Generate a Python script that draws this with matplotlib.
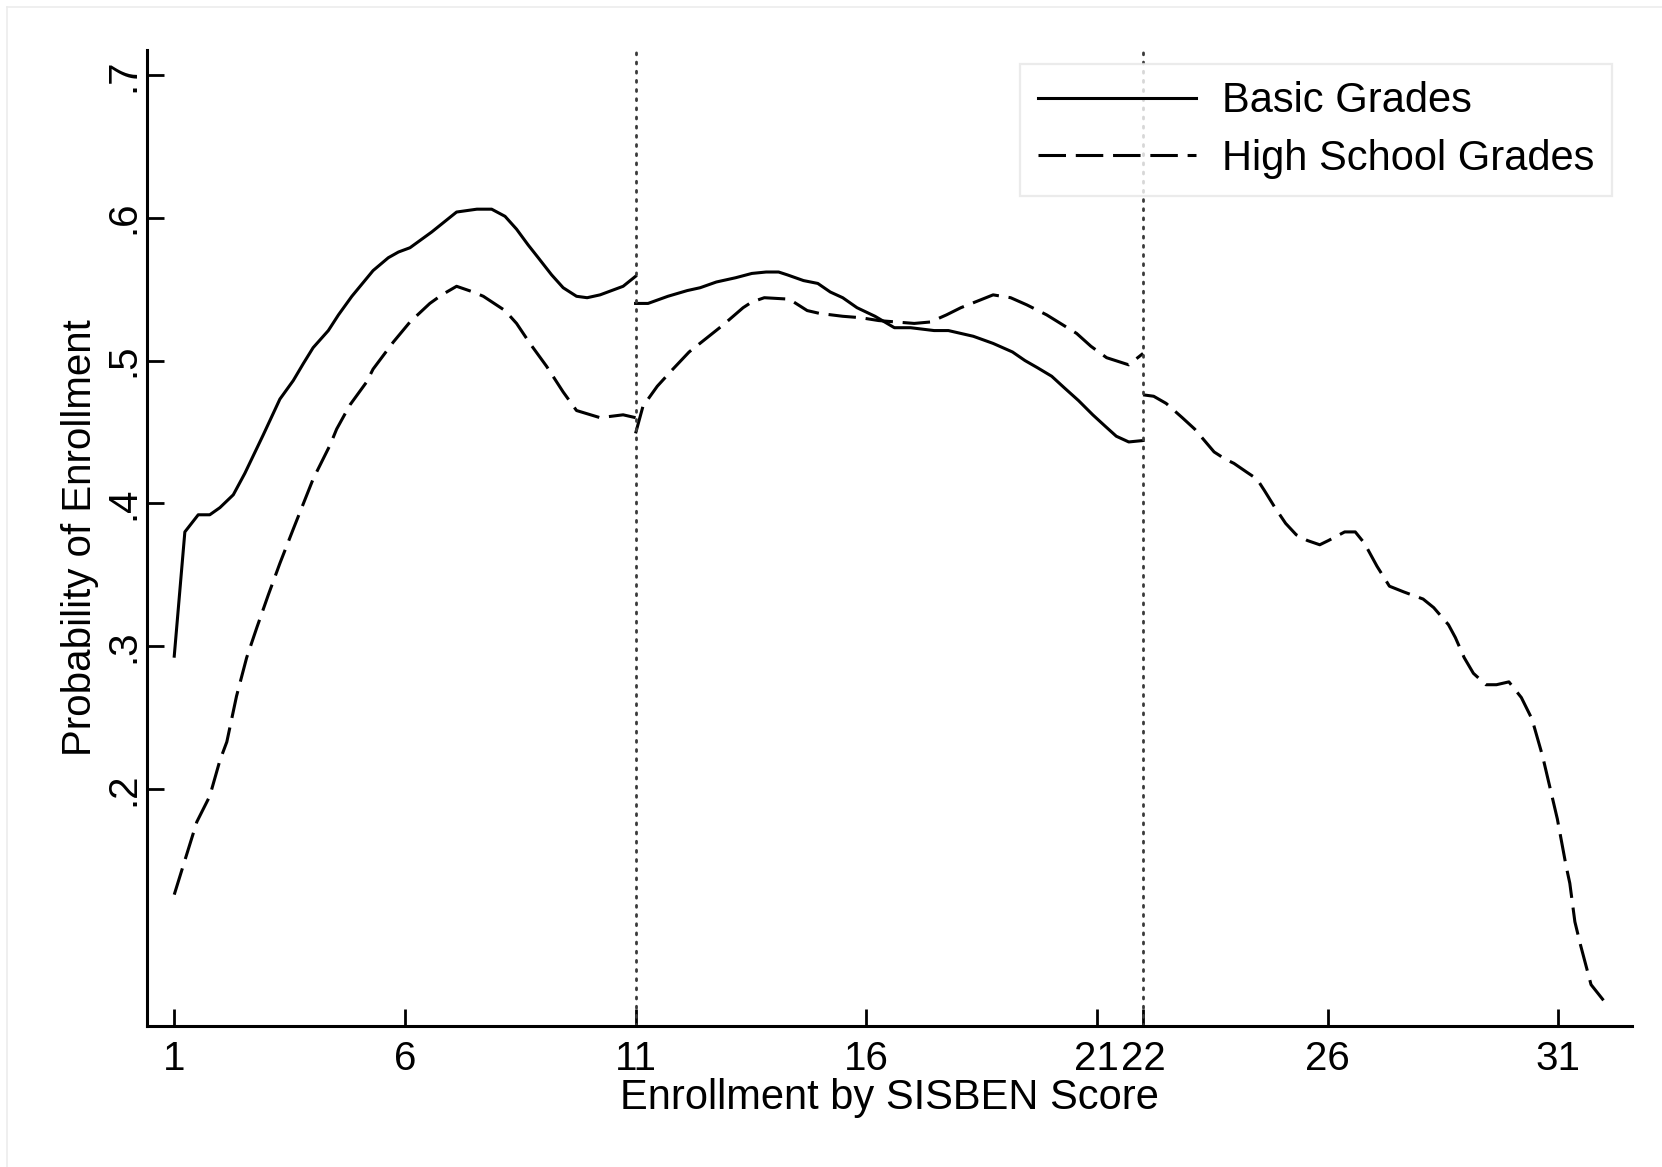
#!/usr/bin/env python3
"""Enrollment probability by SISBEN score, basic vs high school grades."""

import matplotlib

matplotlib.use("Agg")
import matplotlib.pyplot as plt
from matplotlib.lines import Line2D

# basic grades, piecewise between the cutoffs 11 and 22
basic_a_x = [1.0, 1.23, 1.52, 1.77, 1.99, 2.28, 2.53, 2.93, 3.29, 3.58, 3.80, 4.01,
             4.34, 4.56, 4.85, 5.31, 5.64, 5.86, 6.11, 6.58, 7.12, 7.56, 7.88, 8.17,
             8.42, 8.67, 8.89, 9.18, 9.43, 9.72, 9.95, 10.23, 10.73, 11.0]
basic_a_y = [0.293, 0.380, 0.392, 0.392, 0.397, 0.406, 0.421, 0.448, 0.473, 0.486, 0.498, 0.509,
             0.521, 0.532, 0.545, 0.563, 0.572, 0.576, 0.579, 0.590, 0.604, 0.606, 0.606, 0.601,
             0.592, 0.581, 0.572, 0.560, 0.551, 0.545, 0.544, 0.546, 0.552, 0.559]
basic_b_x = [11.0, 11.27, 11.70, 12.12, 12.40, 12.75, 13.17, 13.52, 13.83, 14.10, 14.29, 14.64,
             14.95, 15.22, 15.49, 15.80, 16.19, 16.61, 16.96, 17.47, 17.78, 18.32, 18.75, 19.17,
             19.44, 19.71, 20.02, 20.29, 20.60, 20.91, 21.18, 21.42, 21.69, 22.0]
basic_b_y = [0.540, 0.540, 0.545, 0.549, 0.551, 0.555, 0.558, 0.561, 0.562, 0.562, 0.560, 0.556,
             0.554, 0.548, 0.544, 0.537, 0.531, 0.523, 0.523, 0.521, 0.521, 0.517, 0.512, 0.506,
             0.500, 0.495, 0.489, 0.481, 0.472, 0.462, 0.454, 0.447, 0.443, 0.444]

# high school grades
high_a_x = [1.0, 1.23, 1.49, 1.77, 1.99, 2.14, 2.35, 2.57, 2.79, 3.04, 3.29, 3.58, 4.01,
            4.38, 4.52, 4.81, 5.17, 5.31, 5.75, 6.11, 6.54, 6.80, 7.12, 7.48, 7.70, 8.17,
            8.42, 8.71, 9.07, 9.43, 9.72, 10.23, 10.73, 11.0]
high_a_y = [0.126, 0.150, 0.177, 0.195, 0.220, 0.233, 0.265, 0.292, 0.313, 0.336, 0.358, 0.382, 0.417,
            0.441, 0.452, 0.469, 0.485, 0.494, 0.513, 0.527, 0.540, 0.546, 0.552, 0.548, 0.545, 0.535,
            0.526, 0.512, 0.496, 0.478, 0.465, 0.460, 0.462, 0.460]
high_b_x = [11.0, 11.16, 11.47, 11.78, 12.16, 12.55, 12.90, 13.33, 13.52, 13.79, 14.33, 14.72,
            14.99, 15.49, 15.88, 16.27, 16.65, 17.04, 17.39, 17.74, 18.05, 18.44, 18.75, 19.13,
            19.48, 19.91, 20.21, 20.56, 20.87, 21.21, 21.69, 22.0]
high_b_y = [0.449, 0.468, 0.482, 0.493, 0.506, 0.516, 0.525, 0.537, 0.541, 0.544, 0.543, 0.535,
            0.533, 0.531, 0.530, 0.528, 0.527, 0.526, 0.527, 0.532, 0.537, 0.542, 0.546, 0.544,
            0.539, 0.532, 0.526, 0.519, 0.510, 0.502, 0.497, 0.505]
high_c_x = [22.0, 22.23, 22.50, 22.85, 23.12, 23.54, 23.78, 23.97, 24.24, 24.47, 24.63, 24.86,
            25.09, 25.32, 25.56, 25.83, 26.02, 26.37, 26.60, 26.80, 27.07, 27.34, 27.65, 28.07,
            28.30, 28.62, 28.77, 28.96, 29.16, 29.43, 29.66, 29.93, 30.20, 30.43, 30.66, 30.82,
            30.98, 31.17, 31.25, 31.36, 31.48, 31.71, 31.98]
high_c_y = [0.476, 0.475, 0.470, 0.460, 0.452, 0.436, 0.431, 0.428, 0.422, 0.417, 0.409, 0.397,
            0.386, 0.378, 0.374, 0.371, 0.374, 0.380, 0.380, 0.372, 0.356, 0.342, 0.338, 0.333,
            0.327, 0.315, 0.306, 0.292, 0.281, 0.273, 0.273, 0.275, 0.264, 0.249, 0.223, 0.201,
            0.179, 0.146, 0.134, 0.107, 0.091, 0.063, 0.052]

cutoffs = [11, 22]
x_ticks = [1, 6, 11, 16, 21, 22, 26, 31]
y_ticks = [0.2, 0.3, 0.4, 0.5, 0.6, 0.7]
y_tick_labels = [".2", ".3", ".4", ".5", ".6", ".7"]
legend_labels = ["Basic Grades", "High School Grades"]

plt.rcParams["font.family"] = ["Liberation Sans", "DejaVu Sans"]

LW = 2.2
DASH = (9, 3.2)

fig = plt.figure(figsize=(16.62, 11.67), dpi=100)
ax = fig.add_axes([0.0886, 0.1208, 0.982 - 0.0886, 0.9572 - 0.1208])

for xs, ys in [(basic_a_x, basic_a_y), (basic_b_x, basic_b_y)]:
    ax.plot(xs, ys, color="black", lw=LW, solid_joinstyle="round")
for xs, ys in [(high_a_x, high_a_y), (high_b_x, high_b_y), (high_c_x, high_c_y)]:
    ax.plot(xs, ys, color="black", lw=LW, dashes=DASH)

for c in cutoffs:
    ax.axvline(c, color="#3a3a3a", lw=2.0, dashes=(0.7, 2.6), dash_capstyle="round")

ax.set_xlim(0.415, 32.6)
ax.set_ylim(0.034, 0.7175)
ax.set_xticks(x_ticks)
ax.set_xticklabels([str(t) for t in x_ticks])
ax.set_yticks(y_ticks)
ax.set_yticklabels(y_tick_labels, rotation=90, va="center")
ax.tick_params(axis="both", direction="in", length=12, width=2, labelsize=29)
ax.tick_params(axis="x", pad=10)
ax.tick_params(axis="y", pad=3.5)

for side in ["top", "right"]:
    ax.spines[side].set_visible(False)
for side in ["left", "bottom"]:
    ax.spines[side].set_linewidth(2.2)

ax.set_xlabel("Enrollment by SISBEN Score", fontsize=30, labelpad=0)
ax.set_ylabel("Probability of Enrollment", fontsize=29, labelpad=4)

handles = [
    Line2D([], [], color="black", lw=LW),
    Line2D([], [], color="black", lw=LW, dashes=DASH),
]
leg = fig.legend(
    handles,
    legend_labels,
    loc="upper right",
    bbox_to_anchor=(1612 / 1662, 1 - 63.6 / 1167),
    fontsize=30,
    frameon=True,
    fancybox=False,
    handlelength=3.8,
    handletextpad=0.62,
    borderpad=0.42,
    labelspacing=0.42,
    borderaxespad=0,
)
leg.get_frame().set_edgecolor("#e6e6e6")
leg.get_frame().set_linewidth(1.6)

# faint outer frame on the left and top edges
fig.add_artist(Line2D([7 / 1662, 7 / 1662], [0, 1 - 7 / 1167], color="#ececec", lw=1.2))
fig.add_artist(Line2D([7 / 1662, 1], [1 - 7 / 1167, 1 - 7 / 1167], color="#ececec", lw=1.2))

fig.savefig("out.png", dpi=100)
